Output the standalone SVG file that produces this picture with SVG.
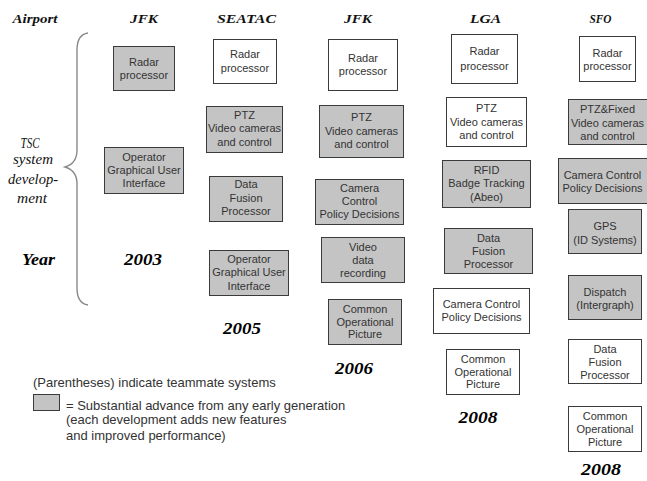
<svg xmlns="http://www.w3.org/2000/svg" width="647" height="481" viewBox="0 0 647 481">
<style>
.b{stroke:#3a3a3a;stroke-width:1}
.g{fill:#c4c4c4}
.w{fill:#ffffff}
.t{font-family:"Liberation Sans",Arial,sans-serif;font-size:11px;fill:#333;text-anchor:middle}
.h{font-family:"Liberation Serif","Times New Roman",serif;font-size:13px;font-weight:bold;font-style:italic;fill:#111;text-anchor:middle}
.y{font-family:"Liberation Serif","Times New Roman",serif;font-size:16px;font-weight:bold;font-style:italic;fill:#000;text-anchor:middle}
.s{font-family:"Liberation Serif","Times New Roman",serif;font-size:14px;font-style:italic;fill:#111;text-anchor:middle}
.l{font-family:"Liberation Sans",Arial,sans-serif;font-size:13px;fill:#333}
</style>
<rect width="647" height="481" fill="#fff"/>

<g id="headers">
<text class="h" x="35" y="23" textLength="45" lengthAdjust="spacingAndGlyphs">Airport</text>
<text class="h" x="144" y="23" textLength="28" lengthAdjust="spacingAndGlyphs">JFK</text>
<text class="h" x="246.5" y="23" textLength="59" lengthAdjust="spacingAndGlyphs">SEATAC</text>
<text class="h" x="358" y="23" textLength="28" lengthAdjust="spacingAndGlyphs">JFK</text>
<text class="h" x="485.5" y="23" textLength="31" lengthAdjust="spacingAndGlyphs">LGA</text>
<text class="h" x="600.5" y="23" textLength="22" lengthAdjust="spacingAndGlyphs">SFO</text>
</g>

<g id="side-labels">
<text class="s" x="30" y="148" textLength="19" lengthAdjust="spacingAndGlyphs">TSC</text>
<text class="s" x="33" y="164" textLength="40" lengthAdjust="spacingAndGlyphs">system</text>
<text class="s" x="33" y="184" textLength="50" lengthAdjust="spacingAndGlyphs">develop-</text>
<text class="s" x="32" y="203" textLength="30" lengthAdjust="spacingAndGlyphs">ment</text>
<text class="y" x="38.5" y="265" textLength="33" lengthAdjust="spacingAndGlyphs">Year</text>
</g>

<g id="connectors">
<path d="M88,33 C81,34 77,39 77,50 L77,150 C77,160 72,165 65,167 C72,169 77,174 77,184 L77,288 C77,299 81,304 88,305" fill="none" stroke="#8a8a8a" stroke-width="1.4"/>
</g>

<g id="years">
<text class="y" x="143" y="265" textLength="38" lengthAdjust="spacingAndGlyphs">2003</text>
<text class="y" x="242" y="334" textLength="38" lengthAdjust="spacingAndGlyphs">2005</text>
<text class="y" x="354" y="374" textLength="38" lengthAdjust="spacingAndGlyphs">2006</text>
<text class="y" x="478" y="423" textLength="39" lengthAdjust="spacingAndGlyphs">2008</text>
<text class="y" x="601" y="475" textLength="40" lengthAdjust="spacingAndGlyphs">2008</text>
</g>

<!-- JFK 2003 -->
<g id="jfk03-radar"><rect class="b g" x="113.5" y="46.5" width="61" height="44"/>
<text class="t" x="144" y="66">Radar</text><text class="t" x="144" y="79">processor</text></g>
<g id="jfk03-gui"><rect class="b g" x="104.5" y="147.5" width="79" height="46"/>
<text class="t" x="144" y="161">Operator</text><text class="t" x="144" y="174">Graphical User</text><text class="t" x="144" y="187">Interface</text></g>

<!-- SEATAC 2005 -->
<g id="sea-radar"><rect class="b w" x="213.5" y="39.5" width="63" height="44"/>
<text class="t" x="245" y="58">Radar</text><text class="t" x="245" y="72">processor</text></g>
<g id="sea-ptz"><rect class="b g" x="206.5" y="106.5" width="76" height="46"/>
<text class="t" x="244.5" y="119">PTZ</text><text class="t" x="244.5" y="132">Video cameras</text><text class="t" x="244.5" y="146">and control</text></g>
<g id="sea-fusion"><rect class="b g" x="209.5" y="176.5" width="73" height="45"/>
<text class="t" x="246" y="188">Data</text><text class="t" x="246" y="202">Fusion</text><text class="t" x="246" y="215">Processor</text></g>
<g id="sea-gui"><rect class="b g" x="209.5" y="250.5" width="79" height="45"/>
<text class="t" x="249" y="263">Operator</text><text class="t" x="249" y="276">Graphical User</text><text class="t" x="249" y="290">Interface</text></g>

<!-- JFK 2006 -->
<g id="jfk06-radar"><rect class="b w" x="328.5" y="39.5" width="69" height="51"/>
<text class="t" x="363" y="62">Radar</text><text class="t" x="363" y="75">processor</text></g>
<g id="jfk06-ptz"><rect class="b g" x="319.5" y="105.5" width="84" height="52"/>
<text class="t" x="361.5" y="121">PTZ</text><text class="t" x="361.5" y="135">Video cameras</text><text class="t" x="361.5" y="148">and control</text></g>
<g id="jfk06-camera"><rect class="b g" x="315.5" y="179.5" width="88" height="45"/>
<text class="t" x="359.5" y="192">Camera</text><text class="t" x="359.5" y="205">Control</text><text class="t" x="359.5" y="218">Policy Decisions</text></g>
<g id="jfk06-video"><rect class="b g" x="321.5" y="237.5" width="83" height="45"/>
<text class="t" x="363" y="251">Video</text><text class="t" x="363" y="264">data</text><text class="t" x="363" y="277">recording</text></g>
<g id="jfk06-cop"><rect class="b g" x="328.5" y="299.5" width="73" height="45"/>
<text class="t" x="365" y="313">Common</text><text class="t" x="365" y="326">Operational</text><text class="t" x="365" y="338">Picture</text></g>

<!-- LGA 2008 -->
<g id="lga-radar"><rect class="b w" x="451.5" y="34.5" width="66" height="49"/>
<text class="t" x="484.5" y="55">Radar</text><text class="t" x="484.5" y="70">processor</text></g>
<g id="lga-ptz"><rect class="b w" x="446.5" y="97.5" width="80" height="49"/>
<text class="t" x="486.5" y="112">PTZ</text><text class="t" x="486.5" y="126">Video cameras</text><text class="t" x="486.5" y="139">and control</text></g>
<g id="lga-rfid"><rect class="b g" x="442.5" y="160.5" width="88" height="47"/>
<text class="t" x="486.5" y="174">RFID</text><text class="t" x="486.5" y="187">Badge Tracking</text><text class="t" x="486.5" y="201">(Abeo)</text></g>
<g id="lga-fusion"><rect class="b g" x="444.5" y="228.5" width="88" height="45"/>
<text class="t" x="488.5" y="242">Data</text><text class="t" x="488.5" y="255">Fusion</text><text class="t" x="488.5" y="268">Processor</text></g>
<g id="lga-camera"><rect class="b w" x="433.5" y="288.5" width="96" height="45"/>
<text class="t" x="481.5" y="308">Camera Control</text><text class="t" x="481.5" y="321">Policy Decisions</text></g>
<g id="lga-cop"><rect class="b w" x="446.5" y="349.5" width="73" height="45"/>
<text class="t" x="483" y="363">Common</text><text class="t" x="483" y="376">Operational</text><text class="t" x="483" y="388">Picture</text></g>

<!-- SFO 2008 -->
<g id="sfo-radar"><rect class="b w" x="579.5" y="36.5" width="56" height="45"/>
<text class="t" x="607.5" y="57">Radar</text><text class="t" x="607.5" y="70">processor</text></g>
<g id="sfo-ptz"><rect class="b g" x="568.5" y="99.5" width="80" height="45"/>
<text class="t" x="607.5" y="113">PTZ&amp;Fixed</text><text class="t" x="607.5" y="127">Video cameras</text><text class="t" x="607.5" y="140">and control</text></g>
<g id="sfo-camera"><rect class="b g" x="558.5" y="158.5" width="90" height="45"/>
<text class="t" x="602.5" y="179">Camera Control</text><text class="t" x="602.5" y="192">Policy Decisions</text></g>
<g id="sfo-gps"><rect class="b g" x="568.5" y="209.5" width="73" height="44"/>
<text class="t" x="605" y="230">GPS</text><text class="t" x="605" y="244">(ID Systems)</text></g>
<g id="sfo-dispatch"><rect class="b g" x="568.5" y="275.5" width="73" height="44"/>
<text class="t" x="605" y="296">Dispatch</text><text class="t" x="605" y="309">(Intergraph)</text></g>
<g id="sfo-fusion"><rect class="b w" x="568.5" y="339.5" width="73" height="44"/>
<text class="t" x="605" y="353">Data</text><text class="t" x="605" y="366">Fusion</text><text class="t" x="605" y="379">Processor</text></g>
<g id="sfo-cop"><rect class="b w" x="568.5" y="406.5" width="73" height="45"/>
<text class="t" x="605" y="420">Common</text><text class="t" x="605" y="433">Operational</text><text class="t" x="605" y="446">Picture</text></g>

<g id="legend">
<text class="l" x="33" y="387">(Parentheses) indicate teammate systems</text>
<rect class="b g" x="33.5" y="394.5" width="26" height="16"/>
<text class="l" x="66" y="410">= Substantial advance from any early generation</text>
<text class="l" x="66" y="424">(each development adds new features</text>
<text class="l" x="66" y="440">and improved performance)</text>
</g>
</svg>
